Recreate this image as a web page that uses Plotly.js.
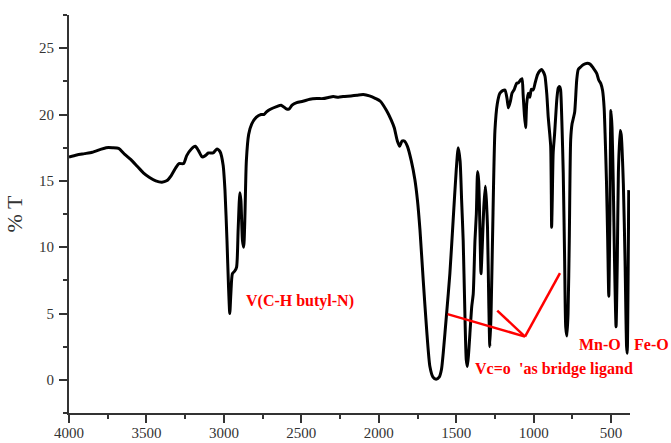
<!DOCTYPE html>
<html>
<head>
<meta charset="utf-8">
<script src="https://cdn.plot.ly/plotly-3.0.1.min.js"></script>
<style>html,body{margin:0;padding:0;background:#fff;}#chart{width:671px;height:443px;}</style>
</head>
<body>
<div id="chart"></div>
<script>
// Wavenumber (cm-1)
const wavenumber = [
4000,3950,3900,3850,3800,3760,3720,3680,3640,3600,3560,3520,3480,3440,3400,3370,3340,3310,3290,3260,
3240,3210,3185,3165,3140,3120,3100,3070,3045,3025,3005,2993,2980,2970,2962,2955,2945,2930,2918,2908,
2897,2890,2880,2872,2865,2855,2840,2820,2790,2760,2740,2725,2700,2660,2630,2600,2580,2560,2530,2490,
2445,2400,2359,2320,2294,2260,2230,2180,2140,2100,2060,2020,1990,1950,1920,1900,1880,1865,1850,1835,
1815,1790,1767,1750,1734,1713,1691,1670,1650,1630,1610,1595,1584,1562,1541,1520,1500,1487,1475,1465,
1455,1445,1435,1428,1420,1400,1390,1379,1370,1362,1355,1348,1340,1332,1322,1312,1305,1298,1290,1283,
1275,1265,1250,1235,1218,1200,1185,1172,1163,1150,1140,1125,1110,1098,1085,1075,1068,1060,1052,1045,
1035,1025,1015,1003,990,975,960,948,937,927,915,906,896,890,886,884,880,874,865,858,
850,841,832,826,818,809,800,793,785,778,770,761,752,744,735,722,712,695,680,660,
636,615,593,580,567,555,545,539,530,522,515,508,501,494,486,478,468,460,453,442,
435,421,410,400,396,390,386
];
// Transmittance (%T)
const transmittance = [
16.8,16.95,17.05,17.15,17.35,17.5,17.5,17.45,17.0,16.6,16.1,15.6,15.25,15.0,14.9,15.0,15.4,16.0,16.3,16.3,
16.9,17.4,17.6,17.3,16.8,16.9,17.1,17.1,17.4,17.2,16.2,14.3,10.5,7.0,5.0,6.5,8.0,8.2,8.5,11.3,
14.1,13.5,10.5,10.0,12.0,16.5,18.5,19.3,19.8,20.0,20.0,20.2,20.4,20.6,20.7,20.45,20.4,20.7,20.9,21.0,
21.15,21.2,21.2,21.3,21.35,21.3,21.35,21.4,21.45,21.5,21.4,21.2,21.0,20.3,19.6,19.0,18.0,17.6,18.0,18.0,
17.6,16.5,15.1,13.5,11.3,7.5,3.8,1.0,0.2,0.05,0.2,0.8,2.0,5.0,8.0,12.0,15.8,17.5,16.5,13.5,
10.5,5.5,1.5,1.0,2.0,5.5,6.5,10.5,12.5,15.7,15.0,12.0,8.0,10.0,13.0,14.6,13.5,11.5,6.0,2.5,
5.0,11.0,18.8,20.8,21.6,21.8,21.85,21.2,20.5,21.0,21.6,21.9,22.35,22.4,22.6,22.7,21.5,20.0,19.0,20.8,
21.6,21.3,21.9,21.85,22.4,23.0,23.3,23.4,23.2,22.9,21.5,19.8,18.5,17.6,14.0,11.5,13.5,17.1,18.5,19.8,
21.2,22.0,22.1,21.85,19.5,15.6,9.0,4.0,3.3,5.0,10.5,18.1,19.3,19.7,20.2,22.6,23.4,23.6,23.75,23.85,
23.8,23.5,23.1,22.6,22.35,21.8,20.5,18.6,15.0,10.5,6.3,12.0,20.3,19.0,14.8,9.0,4.0,9.0,15.6,18.8,
18.5,14.8,9.0,2.5,2.0,8.0,14.3
];
const xTickValues = [4000,3500,3000,2500,2000,1500,1000,500];
const xTickLabels = ["4000","3500","3000","2500","2000","1500","1000","500"];
const yTickValues = [0,5,10,15,20,25];
const yTickLabels = ["0","5","10","15","20","25"];

const serif = "Liberation Serif, Times New Roman, serif";
const red = "#ff0000";

const trace = {
  x: wavenumber, y: transmittance, type: "scatter", mode: "lines",
  line: {color: "#000000", width: 3, shape: "spline", smoothing: 0.6},
  hoverinfo: "skip"
};

const annFont = {family: serif, size: 16, color: red, weight: "bold"};
const annotations = [
  {x: 2507, y: 5.95, xref: "x", yref: "y", text: "<b>V(C-H butyl-N)</b>", showarrow: false, font: annFont, xanchor: "center", yanchor: "middle"},
  {x: 1392, y: 0.85, xref: "x", yref: "y", text: "<b>Vc=o</b>", showarrow: false, font: annFont, xanchor: "left", yanchor: "middle"},
  {x: 1108, y: 0.85, xref: "x", yref: "y", text: "<b>'as bridge ligand</b>", showarrow: false, font: annFont, xanchor: "left", yanchor: "middle"},
  {x: 722, y: 2.64, xref: "x", yref: "y", text: "<b>Mn-O</b>", showarrow: false, font: annFont, xanchor: "left", yanchor: "middle"},
  {x: 1.004, y: 2.64, xref: "paper", yref: "y", text: "<b>Fe-O</b>", showarrow: false, font: annFont, xanchor: "left", yanchor: "middle"}
];

const redLine = {color: red, width: 2.5};
const shapes = [
  {type: "line", xref: "x", yref: "y", x0: 1556, y0: 4.95, x1: 1056, y1: 3.26, line: redLine},
  {type: "line", xref: "x", yref: "y", x0: 1235, y0: 5.22, x1: 1056, y1: 3.26, line: redLine},
  {type: "line", xref: "x", yref: "y", x0: 1056, y0: 3.26, x1: 830, y1: 8.04, line: redLine}
];

const axisCommon = {
  showline: true, linecolor: "#333333", linewidth: 2, mirror: false,
  showgrid: false, zeroline: false,
  ticks: "outside", ticklen: 8, tickwidth: 2, tickcolor: "#333333"
};

const layout = {
  width: 671, height: 443,
  margin: {l: 69, r: 41, t: 15, b: 30, pad: 0},
  paper_bgcolor: "#ffffff", plot_bgcolor: "#ffffff",
  showlegend: false,
  xaxis: Object.assign({}, axisCommon, {
    range: [4000, 378], tickmode: "array", tickvals: xTickValues, ticktext: xTickLabels,
    tickfont: {family: serif, size: 15, color: "#333333"},
    ticklabelstandoff: -3,
    minor: {dtick: 250, tick0: 0, ticks: "outside", ticklen: 4, tickwidth: 2, tickcolor: "#333333", showgrid: false}
  }),
  yaxis: Object.assign({}, axisCommon, {
    range: [-2.5, 27.5], tickmode: "array", tickvals: yTickValues, ticktext: yTickLabels,
    tickfont: {family: serif, size: 15, color: "#333333"},
    ticklabelstandoff: 2,
    minor: {dtick: 2.5, tick0: 0, ticks: "outside", ticklen: 4, tickwidth: 2, tickcolor: "#333333", showgrid: false},
    title: {text: "% T", font: {family: serif, size: 22, color: "#333333"}, standoff: 10}
  }),
  annotations: annotations,
  shapes: shapes
};

Plotly.newPlot("chart", [trace], layout, {staticPlot: true, displayModeBar: false});
</script>
</body>
</html>
